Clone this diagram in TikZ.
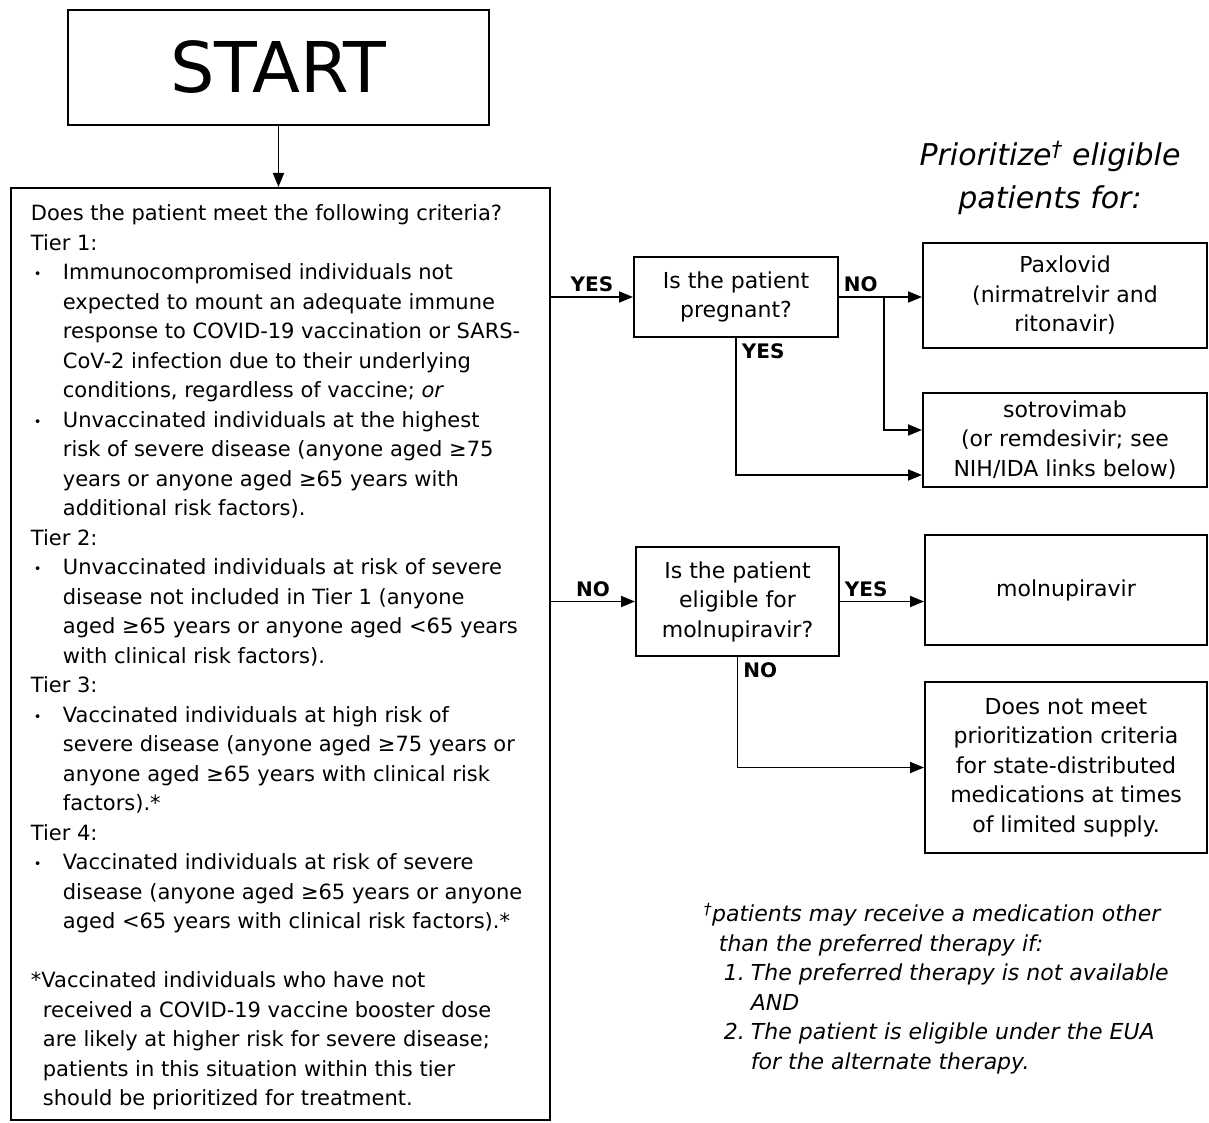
\documentclass[tikz,border=0pt]{standalone}
\usepackage{fontspec}
\setmainfont{DejaVu Sans}
\usetikzlibrary{arrows.meta}

\newcommand{\bodyfont}{\fontsize{21}{29.5}\selectfont}
\newcommand{\boxfont}{\fontsize{22}{29.5}\selectfont}
\newcommand{\bpt}{\makebox[32pt][l]{\hspace{3pt}\raisebox{1pt}{\fontsize{13}{13}\selectfont\textbullet}}}
\newcommand{\ind}{\hspace*{32pt}}

\tikzset{
  box/.style={draw, line width=2pt, inner sep=0pt, align=center, font=\boxfont},
  lbl/.style={font=\fontsize{20}{20}\selectfont\bfseries, inner sep=4pt},
  >={Triangle[length=14pt,width=11pt]}
}

\begin{document}
\begin{tikzpicture}[x=1pt, y=-1pt, line width=1.8pt]
\useasboundingbox (0,0) rectangle (1209,1123);

% left column
\node[box, minimum width=421pt, minimum height=115pt, font=\fontsize{70}{70}\selectfont] (start) at (278.5,67.5) {START};
\node[box, minimum width=539pt, minimum height=932pt, anchor=north west] (criteria) at (10,187) {};
\node[anchor=north west, inner sep=0pt, align=left, font=\bodyfont] (tiers) at (30,204) {%
Does the patient meet the following criteria?\\
Tier 1:\\
\bpt Immunocompromised individuals not\\
\ind expected to mount an adequate immune\\
\ind response to COVID-19 vaccination or SARS-\\
\ind CoV-2 infection due to their underlying\\
\ind conditions, regardless of vaccine; \textit{or}\\
\bpt Unvaccinated individuals at the highest\\
\ind risk of severe disease (anyone aged ≥75\\
\ind years or anyone aged ≥65 years with\\
\ind additional risk factors).\\
Tier 2:\\
\bpt Unvaccinated individuals at risk of severe\\
\ind disease not included in Tier 1 (anyone\\
\ind aged ≥65 years or anyone aged <65 years\\
\ind with clinical risk factors).\\
Tier 3:\\
\bpt Vaccinated individuals at high risk of\\
\ind severe disease (anyone aged ≥75 years or\\
\ind anyone aged ≥65 years with clinical risk\\
\ind factors).*\\
Tier 4:\\
\bpt Vaccinated individuals at risk of severe\\
\ind disease (anyone aged ≥65 years or anyone\\
\ind aged <65 years with clinical risk factors).*\\[29.5pt]
*Vaccinated individuals who have not\\
\hspace*{12pt}received a COVID-19 vaccine booster dose\\
\hspace*{12pt}are likely at higher risk for severe disease;\\
\hspace*{12pt}patients in this situation within this tier\\
\hspace*{12pt}should be prioritized for treatment.};

% questions
\node[box, minimum width=204pt, minimum height=80pt] (pregnant) at (736,297) {Is the patient\\pregnant?};
\node[box, minimum width=203pt, minimum height=109pt] (eligible) at (737.5,601.5) {Is the patient\\eligible for\\molnupiravir?};

% treatments
\node[font=\fontsize{30}{43}\selectfont\itshape, align=center] (header) at (1050,178) {Prioritize\textsuperscript{\dag} eligible\\patients for:};
\node[box, minimum width=284pt, minimum height=105pt] (paxlovid) at (1065,295.5) {Paxlovid\\(nirmatrelvir and\\ritonavir)};
\node[box, minimum width=284pt, minimum height=94pt] (sotrovimab) at (1065,440) {sotrovimab\\(or remdesivir; see\\NIH/IDA links below)};
\node[box, minimum width=282pt, minimum height=110pt] (molnupiravir) at (1066,590) {molnupiravir};
\node[box, minimum width=282pt, minimum height=171pt] (notmeet) at (1066,767.5) {Does not meet\\prioritization criteria\\for state-distributed\\medications at times\\of limited supply.};

\node[anchor=north west, inner sep=0pt, align=left, font=\fontsize{22}{29.5}\selectfont\itshape] (note) at (703,902) {%
\textsuperscript{\dag}patients may receive a medication other\\
\hspace*{15pt}than the preferred therapy if:\\
\hspace*{20pt}\makebox[27pt][l]{1.}The preferred therapy is not available\\
\hspace*{47pt}AND\\
\hspace*{20pt}\makebox[27pt][l]{2.}The patient is eligible under the EUA\\
\hspace*{47pt}for the alternate therapy.};

% connectors
\draw[->] (start) -- (start |- criteria.north);
\draw[->] (criteria.east |- pregnant.west) -- node[lbl, above] {YES} (pregnant.west);
\draw[->] (criteria.east |- eligible.west) -- node[lbl, above] {NO} (eligible.west);
\draw[->] (pregnant.east) -- node[lbl, above right, pos=0] {NO} (pregnant.east -| paxlovid.west);
\coordinate (split) at ([xshift=45pt]pregnant.east);
\draw[->] (split) |- ([yshift=10pt]sotrovimab.west);
\draw[->] (pregnant.south) node[lbl, below right, inner sep=5pt] {YES} |- ([yshift=-35pt]sotrovimab.west);
\draw[->] (eligible.east) -- node[lbl, above right, pos=0] {YES} (eligible.east -| molnupiravir.west);
\draw[->] (eligible.south) node[lbl, below right, inner sep=5pt] {NO} |- (notmeet.west);
\end{tikzpicture}
\end{document}
